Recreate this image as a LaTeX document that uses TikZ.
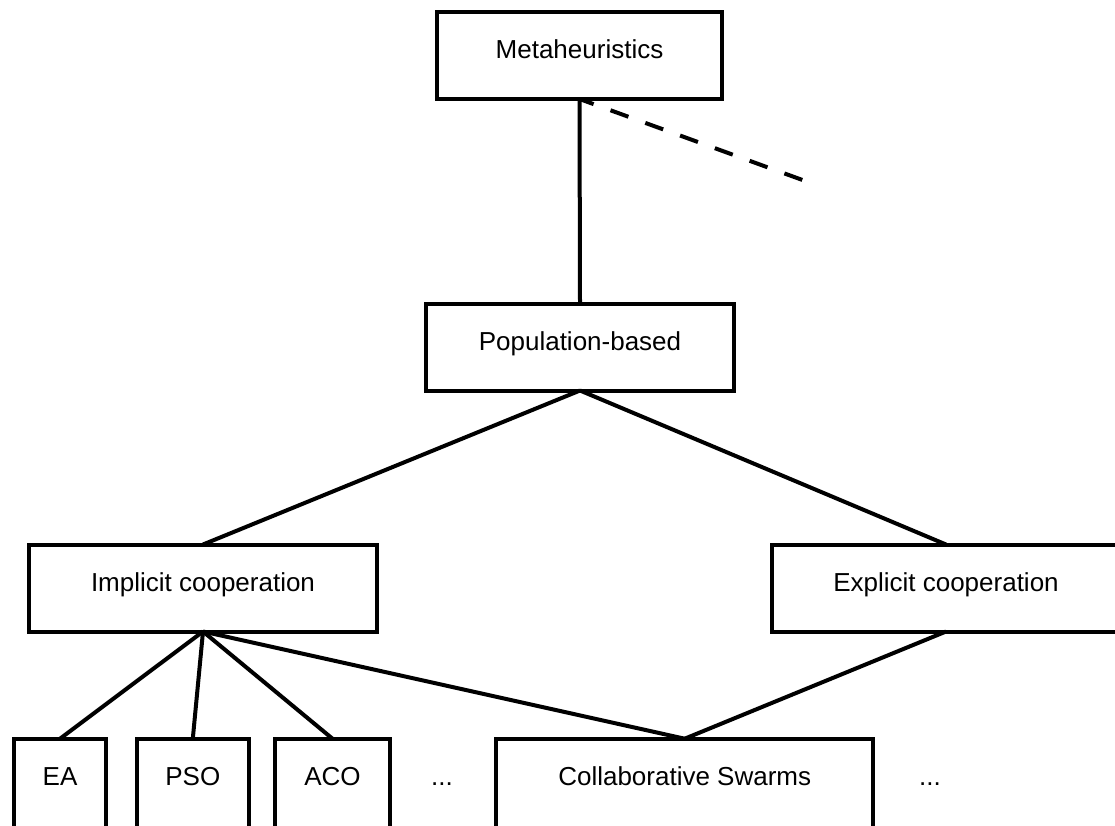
\documentclass[tikz,border=0pt]{standalone}
\usepackage{fontspec}
\setmainfont{Liberation Sans}
\begin{document}
\begin{tikzpicture}[x=1pt,y=-1pt,
  box/.style={draw, line width=4pt, fill=white, inner sep=0pt, outer sep=0pt,
    minimum height=87pt, text height=19pt, text depth=13pt,
    font=\fontsize{26}{30}\selectfont},
  leafbox/.style={box, minimum height=90pt, text depth=16.4pt},
  link/.style={line width=4pt},
  dotslabel/.style={anchor=base, inner sep=0pt, font=\fontsize{26}{30}\selectfont}]
\useasboundingbox (0,0) rectangle (1115,825);
% boxes
\node[box, minimum width=285pt] (meta) at (579.5,55.5) {Metaheuristics};
\node[box, minimum width=308pt] (pop) at (580,347) {Population-based};
\node[box, minimum width=348pt] (impl) at (203,588) {Implicit cooperation};
\node[box, minimum width=348pt] (expl) at (946,588) {Explicit cooperation};
\node[leafbox, minimum width=92.6pt] (ea) at (60,783.7) {EA};
\node[leafbox, minimum width=111.7pt] (pso) at (192.8,783.7) {PSO};
\node[leafbox, minimum width=114.4pt] (aco) at (332.5,783.7) {ACO};
\node[leafbox, minimum width=376.7pt] (collab) at (684.7,783.7) {Collaborative Swarms};
\node[dotslabel] (dotsa) at (442,785) {...};
\node[dotslabel] (dotsb) at (930,785) {...};
\coordinate (dashend) at (808,182);
% connectors
\draw[link] (meta.south) -- (pop.north);
\draw[link, dash pattern=on 19pt off 18pt, dash phase=4pt] (meta.south) -- (dashend);
\draw[link] (pop.south) -- (impl.north);
\draw[link] (pop.south) -- (expl.north);
\draw[link] (impl.south) -- (ea.north);
\draw[link] (impl.south) -- (pso.north);
\draw[link] (impl.south) -- (aco.north);
\draw[link] (impl.south) -- (collab.north);
\draw[link] (expl.south) -- (collab.north);
\end{tikzpicture}
\end{document}
